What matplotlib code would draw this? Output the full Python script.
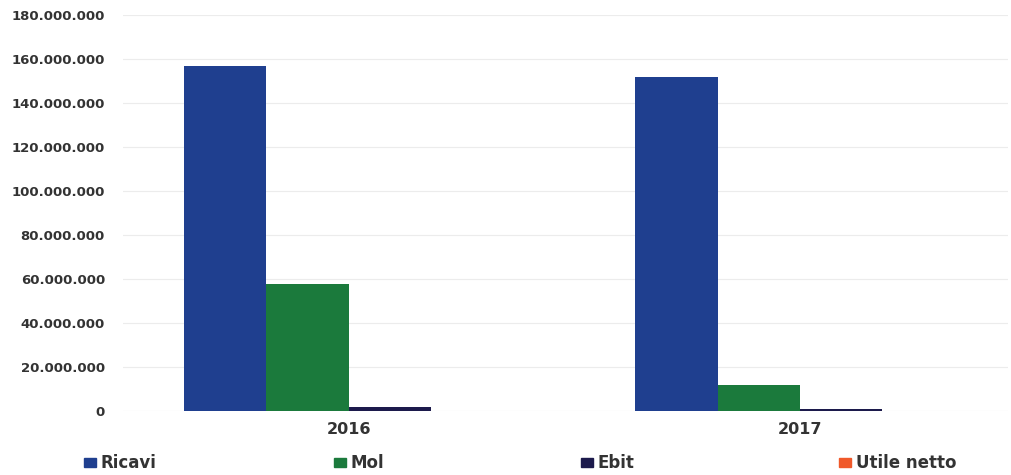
import numpy as np
import matplotlib.pyplot as plt
from matplotlib.ticker import FuncFormatter
from matplotlib.patches import Patch

# dati
anni = ['2016', '2017']
serie = ['Ricavi', 'Mol', 'Ebit', 'Utile netto']
ricavi = [156800000, 151800000]
mol = [57800000, 11900000]
ebit = [1800000, 900000]
utile_netto = [150000, 100000]
colori = ['#1f3f8f', '#1b7a3c', '#1c1a4c', '#f0592a']

plt.rcParams['font.family'] = ['DejaVu Sans']

fig = plt.figure(figsize=(10.12, 4.75), dpi=100)
ax = fig.add_axes([123/1012, 64/475, 885/1012, 396/475])

x = np.arange(len(anni))
w = 0.182
valori = [ricavi, mol, ebit, utile_netto]
for i, (nome, v) in enumerate(zip(serie, valori)):
    ax.bar(x + (i - 1.5) * w, v, w, color=colori[i], label=nome)

ax.set_ylim(0, 180000000)
ax.set_xlim(-0.5, 1.462)
ax.set_yticks(np.arange(0, 180000001, 20000000))
ax.yaxis.set_major_formatter(FuncFormatter(lambda v, p: f'{int(v):,}'.replace(',', '.')))
ax.set_xticks(x)
ax.set_xticklabels(anni)
ax.grid(axis='y', color='#ececec', linewidth=0.8)
ax.set_axisbelow(True)
for s in ax.spines.values():
    s.set_visible(False)
ax.tick_params(length=0, colors='#333333')
ax.tick_params(axis='y', pad=13, labelsize=9.5)
ax.tick_params(axis='x', pad=8, labelsize=11.5)
for lab in ax.get_yticklabels() + ax.get_xticklabels():
    lab.set_fontweight('bold')

# legenda: una voce per posizione
pos_leg = [84, 334, 581, 839]
for nome, col, px in zip(serie, colori, pos_leg):
    fig.legend(handles=[Patch(color=col, label=nome)], loc='center left',
               bbox_to_anchor=(px/1012, 1 - 463/475), frameon=False,
               handlelength=0.7, handleheight=0.45, handletextpad=0.3,
               borderpad=0, borderaxespad=0,
               prop={'size': 12, 'weight': 'bold'}, labelcolor='#333333')

fig.savefig('out.png', dpi=100, facecolor='white')
